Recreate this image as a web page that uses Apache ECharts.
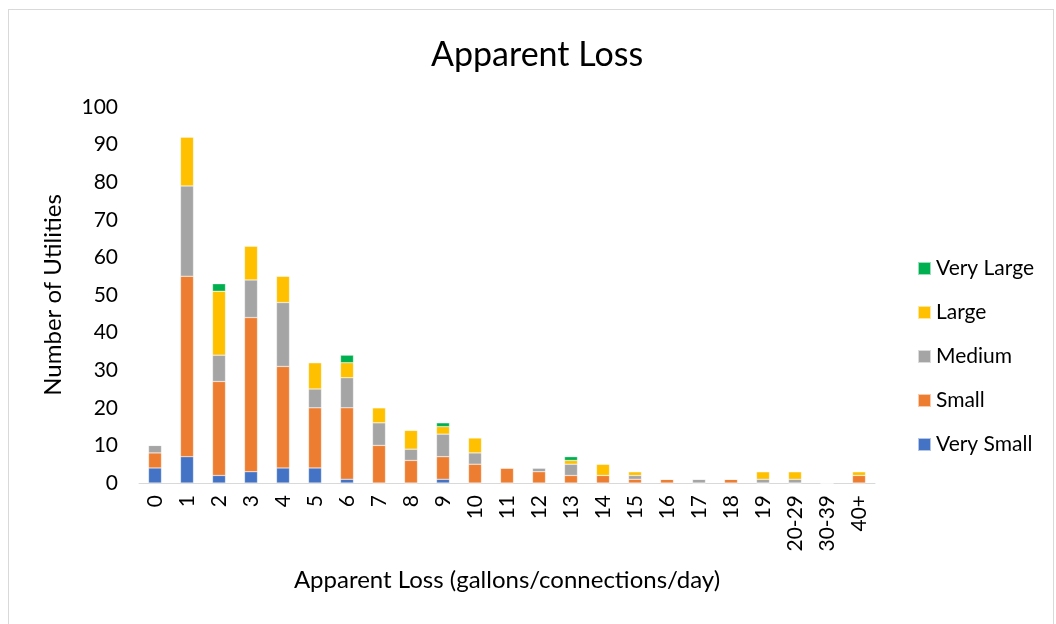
<!DOCTYPE html>
<html>
<head>
<meta charset="utf-8">
<script src="https://cdn.jsdelivr.net/npm/echarts@6/dist/echarts.min.js"></script>
<style>
  html, body { margin: 0; padding: 0; background: #fff; }
  #frame { position: absolute; left: 8px; top: 9px; width: 1046px; height: 620px; border: 1px solid #d9d9d9; box-sizing: border-box; }
  #chart { position: absolute; left: 0; top: 0; width: 1056px; height: 624px; }
</style>
</head>
<body>
<div id="frame"></div>
<div id="chart"></div>
<script>
var categories = ["0","1","2","3","4","5","6","7","8","9","10","11","12","13","14","15","16","17","18","19","20-29","30-39","40+"];
var verySmall = [4, 7, 2, 3, 4, 4, 1, 0, 0, 1, 0, 0, 0, 0, 0, 0, 0, 0, 0, 0, 0, 0, 0];
var small     = [4, 48, 25, 41, 27, 16, 19, 10, 6, 6, 5, 4, 3, 2, 2, 1, 1, 0, 1, 0, 0, 0, 2];
var medium    = [2, 24, 7, 10, 17, 5, 8, 6, 3, 6, 3, 0, 1, 3, 0, 1, 0, 1, 0, 1, 1, 0, 0];
var large     = [0, 13, 17, 9, 7, 7, 4, 4, 5, 2, 4, 0, 0, 1, 3, 1, 0, 0, 0, 2, 2, 0, 1];
var veryLarge = [0, 0, 2, 0, 0, 0, 2, 0, 0, 1, 0, 0, 0, 1, 0, 0, 0, 0, 0, 0, 0, 0, 0];

var font = "Lato, 'Open Sans', sans-serif";
var chart = echarts.init(document.getElementById("chart"));

function bar(name, data, color) {
  return {
    name: name,
    type: "bar",
    stack: "total",
    barWidth: 13,
    itemStyle: { color: color, borderColor: "rgba(255,255,255,0.6)", borderWidth: 0.5 },
    data: data
  };
}

chart.setOption({
  backgroundColor: "transparent",
  animation: false,
  textStyle: { fontFamily: font },
  title: {
    text: "Apparent Loss",
    left: 426,
    top: 33,
    textStyle: { fontFamily: font, fontSize: 34, fontWeight: "normal", color: "#000" }
  },
  legend: {
    orient: "vertical",
    left: 912,
    top: 253,
    itemWidth: 13,
    itemHeight: 13,
    itemGap: 23,
    icon: "rect",
    data: ["Very Large", "Large", "Medium", "Small", "Very Small"],
    textStyle: { fontFamily: font, fontSize: 21, color: "#000" }
  },
  grid: {
    left: 139,
    top: 107,
    width: 736,
    bottom: 141,
    containLabel: false
  },
  xAxis: {
    type: "category",
    data: categories,
    name: "Apparent Loss (gallons/connections/day)",
    nameLocation: "middle",
    nameGap: 85,
    nameTextStyle: { fontFamily: font, fontSize: 24, color: "#000" },
    axisLine: { lineStyle: { color: "#d9d9d9", width: 1 } },
    axisTick: { show: false },
    axisLabel: { rotate: 90, margin: 12, fontSize: 21, color: "#000", fontFamily: font, interval: 0 }
  },
  yAxis: {
    type: "value",
    min: 0,
    max: 100,
    interval: 10,
    name: "Number of Utilities",
    nameLocation: "middle",
    nameGap: 74,
    nameTextStyle: { fontFamily: font, fontSize: 24, color: "#000" },
    axisLine: { show: false },
    axisTick: { show: false },
    splitLine: { show: false },
    axisLabel: { margin: 21, fontSize: 21, color: "#000", fontFamily: font }
  },
  series: [
    bar("Very Small", verySmall, "#4472C4"),
    bar("Small", small, "#ED7D31"),
    bar("Medium", medium, "#A5A5A5"),
    bar("Large", large, "#FFC000"),
    bar("Very Large", veryLarge, "#00B050")
  ]
});
</script>
</body>
</html>
